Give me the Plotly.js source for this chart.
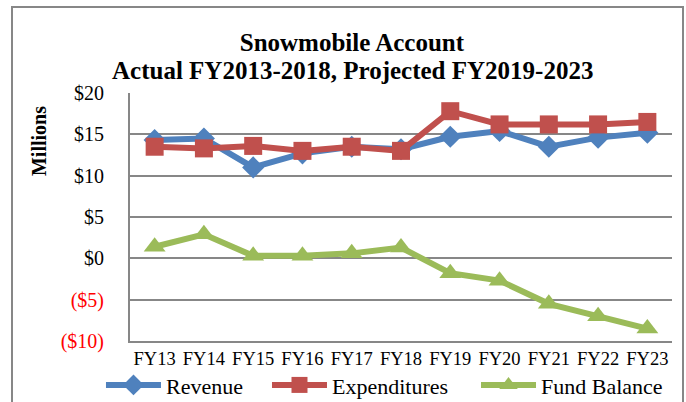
<!DOCTYPE html>
<html>
<head>
<meta charset="utf-8">
<script src="https://cdn.plot.ly/plotly-3.0.1.min.js"></script>
<style>html,body{margin:0;padding:0;background:#fff;} #chart{width:686px;height:402px;}</style>
</head>
<body>
<div id="chart"></div>
<script>
const categories = ["FY13","FY14","FY15","FY16","FY17","FY18","FY19","FY20","FY21","FY22","FY23"];
const revenue = [14.3, 14.5, 11.0, 12.7, 13.5, 13.2, 14.7, 15.4, 13.5, 14.6, 15.2];
const expenditures = [13.5, 13.3, 13.6, 13.0, 13.5, 13.0, 17.8, 16.2, 16.2, 16.2, 16.5];
const fundBalance = [1.4, 2.9, 0.3, 0.3, 0.6, 1.3, -1.8, -2.7, -5.5, -7.0, -8.5];
const yTickVals = [20, 15, 10, 5, 0, -5, -10];
const yTickText = ["$20", "$15", "$10", "$5", "$0",
  '<span style="color:#FF0000">($5)</span>', '<span style="color:#FF0000">($10)</span>'];
const titleLine1 = "Snowmobile Account";
const titleLine2 = "Actual FY2013-2018, Projected FY2019-2023";
const yTitle = "Millions";

const font = "Liberation Serif";
const traces = [
  {x: categories, y: revenue, name: "Revenue", type: "scatter", mode: "lines+markers", legend: "legend",
   line: {color: "#4F81BD", width: 6}, marker: {symbol: "diamond", size: 17, color: "#4F81BD"}},
  {x: categories, y: expenditures, name: "Expenditures", type: "scatter", mode: "lines+markers", legend: "legend2",
   line: {color: "#C0504D", width: 6}, marker: {symbol: "square", size: 18, color: "#C0504D"}},
  {x: categories, y: fundBalance, name: "Fund Balance", type: "scatter", mode: "lines+markers", legend: "legend3",
   line: {color: "#9BBB59", width: 6}, marker: {symbol: "triangle-up", size: 19, color: "#9BBB59"}}
];
function legendAt(x) {
  return {orientation: "h", xref: "container", yref: "container", x: x, xanchor: "left", y: 0.042, yanchor: "middle",
          font: {family: font, size: 22, color: "#000"}, bgcolor: "rgba(0,0,0,0)", borderwidth: 0, itemwidth: 55};
}
const layout = {
  width: 686, height: 402,
  margin: {l: 130, r: 14, t: 93, b: 61},
  paper_bgcolor: "#fff", plot_bgcolor: "#fff",
  font: {family: font, color: "#000", size: 17},
  title: {text: "<b>" + titleLine1 + "</b>", font: {family: font, size: 25, color: "#000"},
          xref: "container", yref: "container", x: 0.513, xanchor: "center", y: 0.895, yanchor: "middle"},
  xaxis: {type: "category", range: [-0.5, 10.5], showgrid: false, showline: true, linecolor: "#878787", linewidth: 2,
          ticks: "", tickfont: {family: font, size: 18.5}, ticklabelstandoff: 0, zeroline: false, fixedrange: true},
  yaxis: {range: [-10, 20], tickvals: yTickVals, ticktext: yTickText, showgrid: true, gridcolor: "#878787", gridwidth: 2,
          showline: true, linecolor: "#878787", linewidth: 2, zeroline: false, ticks: "",
          ticklabelstandoff: 20, tickfont: {family: font, size: 20}},
  showlegend: true,
  legend: legendAt(0.1472),
  legend2: legendAt(0.3892),
  legend3: legendAt(0.6939),
  annotations: [
    {text: "<b>" + titleLine2 + "</b>", xref: "paper", yref: "paper", x: 0.41, y: 1.0927, xanchor: "center", yanchor: "middle",
     showarrow: false, font: {family: font, size: 25, color: "#000"}},
    {text: "<b>" + yTitle + "</b>", xref: "paper", yref: "paper", x: -0.168, y: 0.806, xanchor: "center", yanchor: "middle",
     textangle: -90, showarrow: false, font: {family: font, size: 20, color: "#000"}}
  ],
  shapes: [{type: "rect", xref: "paper", yref: "paper", x0: -0.2177, x1: 1.0203, y0: -0.3, y1: 1.3468,
            line: {color: "#878787", width: 2}, fillcolor: "rgba(0,0,0,0)"}]
};
Plotly.newPlot("chart", traces, layout, {displayModeBar: false, staticPlot: true});
</script>
</body>
</html>
